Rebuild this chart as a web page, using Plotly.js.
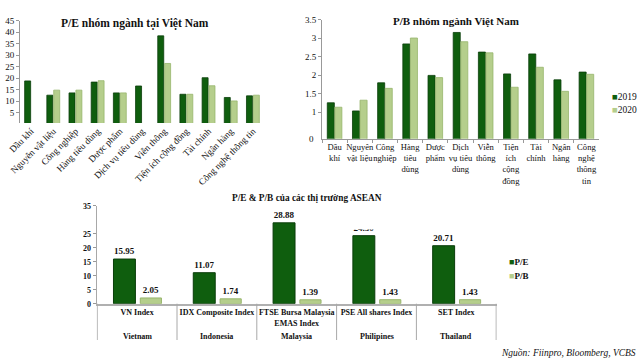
<!DOCTYPE html>
<html>
<head>
<meta charset="utf-8">
<script src="https://cdn.plot.ly/plotly-3.0.1.min.js"></script>
<style>html,body{margin:0;padding:0;background:#fff;}#chart{width:640px;height:361px;}</style>
</head>
<body>
<div id="chart"></div>
<script>
// ---- Data ----
const sectors = ['Dầu khí','Nguyên vật liệu','Công nghiệp','Hàng tiêu dùng','Dược phẩm','Dịch vụ tiêu dùng','Viễn thông','Tiện ích cộng đồng','Tài chính','Ngân hàng','Công nghệ thông tin'];
const sectorLabelsWrapped = ['Dầu<br>khí','Nguyên<br>vật liệu','Công<br>nghiệp','Hàng<br>tiêu<br>dùng','Dược<br>phẩm','Dịch<br>vụ tiêu<br>dùng','Viễn<br>thông','Tiện<br>ích<br>cộng<br>đồng','Tài<br>chính','Ngân<br>hàng','Công<br>nghệ<br>thông<br>tin'];
const pe2019 = [18.8,12.6,13.6,18.3,13.6,16.6,38.4,13.0,20.2,11.6,12.3];
const pe2020 = [null,14.8,14.8,18.9,13.6,null,26.4,13.0,16.7,10.1,12.6];
const pb2019 = [1.25,1.03,1.79,2.84,1.99,3.15,2.62,2.03,2.57,1.87,2.08];
const pb2020 = [1.13,1.32,1.64,3.00,1.93,2.90,2.60,1.67,2.21,1.56,2.02];
const markets = ['VN Index','IDX Composite Index','FTSE Bursa Malaysia<br>EMAS Index','PSE All shares Index','SET Index'];
const countries = ['Vietnam','Indonesia','Malaysia','Philipines','Thailand'];
const marketPE = [15.95,11.07,28.88,24.30,20.71];
const marketPB = [2.05,1.74,1.39,1.43,1.43];
const yearNames = ['2019','2020'];
const ratioNames = ['P/E','P/B'];
const peTicks = [5,10,15,20,25,30,35,40,45];
const pbTicks = [1,1.5,2,2.5,3,3.5];
const aseanTicks = [0,5,10,15,20,25,35];

// ---- Style ----
const SERIF = 'Liberation Serif, Times New Roman, serif';
const DARK = '#0f5e0e', DARK_LINE = '#0a3d0a';
const LIGHT = '#b5ce8c', LIGHT_LINE = '#97b56c';
const W = 640, H = 361;
const px = v => v / W, py = v => 1 - v / H;
const tickFont = {family: SERIF, size: 9, color: '#111'};
const boldTick = {family: SERIF, size: 8, color: '#111', weight: 'bold'};

const traces = [
  {type:'bar', x:sectors, y:pe2019, xaxis:'x', yaxis:'y', offset:-0.29, width:0.27,
   marker:{color:DARK, line:{color:DARK_LINE, width:0.8}}, name:yearNames[0]},
  {type:'bar', x:sectors, y:pe2020, xaxis:'x', yaxis:'y', offset:0.02, width:0.27,
   marker:{color:LIGHT, line:{color:LIGHT_LINE, width:0.8}}, name:yearNames[1]},
  {type:'bar', x:sectors, y:pb2019, xaxis:'x2', yaxis:'y2', offset:-0.29, width:0.28,
   marker:{color:DARK, line:{color:DARK_LINE, width:0.8}}, name:yearNames[0]},
  {type:'bar', x:sectors, y:pb2020, xaxis:'x2', yaxis:'y2', offset:0.01, width:0.28,
   marker:{color:LIGHT, line:{color:LIGHT_LINE, width:0.8}}, name:yearNames[1]},
  {type:'bar', x:markets, y:marketPE, xaxis:'x3', yaxis:'y3', offset:-0.296, width:0.275,
   marker:{color:DARK, line:{color:DARK_LINE, width:1}}, name:ratioNames[0],
   texttemplate:'%{y:.2f}', textposition:'outside', cliponaxis:false,
   textfont:{family:SERIF, size:9, color:'#111', weight:'bold'}},
  {type:'bar', x:markets, y:marketPB, xaxis:'x3', yaxis:'y3', offset:0.04, width:0.265,
   marker:{color:LIGHT, line:{color:LIGHT_LINE, width:1}}, name:ratioNames[1],
   texttemplate:'%{y:.2f}', textposition:'outside', cliponaxis:false,
   textfont:{family:SERIF, size:9, color:'#111', weight:'bold'}}
];

const shapes = [];
for (let i = 0; i <= markets.length; i++) {
  shapes.push({type:'line', xref:'x3', yref:'paper', x0:i-0.5, x1:i-0.5, y0:py(303.7), y1:py(340),
    line:{color:'#a8a8a8', width:1}});
}
// white strip: the reference hides most of one value label
shapes.push({type:'rect', xref:'paper', yref:'paper', x0:px(345), x1:px(395), y0:py(205), y1:py(229.5),
  fillcolor:'#fff', line:{width:0}, layer:'above'});

const ann = (o) => Object.assign({xref:'paper', yref:'paper', showarrow:false, xanchor:'center', yanchor:'middle'}, o);
const annotations = [
  ann({text:'P/E nhóm ngành tại Việt Nam', x:px(135), y:py(23),
   font:{family:SERIF, size:11.5, color:'#111', weight:'bold'}}),
  ann({text:'P/B nhóm ngành Việt Nam', x:px(456), y:py(21),
   font:{family:SERIF, size:11, color:'#111', weight:'bold'}}),
  ann({text:'P/E & P/B của các thị trường ASEAN', x:px(307), y:py(197.5),
   font:{family:SERIF, size:9.3, color:'#111', weight:'bold'}}),
  ann({text:'0', x:px(316), y:py(139.3), xanchor:'right', font:tickFont}),
  ann({text:'Nguồn: Fiinpro, Bloomberg, VCBS', x:px(638), y:py(353), xanchor:'right',
   font:{family:SERIF, size:9.5, color:'#111', style:'italic'}})
];
countries.forEach((c, i) => annotations.push(ann({text:c, xref:'x3', x:i, y:py(336.7), font:boldTick})));
// legends (square swatch + name)
yearNames.forEach((n, i) => annotations.push(ann({
  text:'<span style="color:' + [DARK, LIGHT][i] + '">■</span>' + n,
  x:px(610), y:py(96.7 + i * 13.4), xanchor:'left', font:{family:SERIF, size:9.5, color:'#111'}})));
ratioNames.forEach((n, i) => annotations.push(ann({
  text:'<span style="color:' + [DARK, LIGHT][i] + '">■</span>' + n,
  x:px(507), y:py(262.3 + i * 13.4), xanchor:'left', font:{family:SERIF, size:9, color:'#111', weight:'bold'}})));

const layout = {
  width: W, height: H,
  margin: {l:0, r:0, t:0, b:0},
  paper_bgcolor: '#fff', plot_bgcolor: 'rgba(0,0,0,0)',
  barmode: 'overlay',
  showlegend: false,
  font: {family: SERIF, color: '#111'},
  xaxis: {domain:[px(20), px(264)], anchor:'y', type:'category', tickangle:-45,
    tickfont:{family:SERIF, size:9.3, color:'#111'}, ticks:'', showline:false, showgrid:false, zeroline:false, automargin:false},
  yaxis: {domain:[py(123), py(20.7)], anchor:'x', range:[0.5, 45], tickvals:peTicks,
    tickfont:tickFont, ticks:'outside', ticklen:3, tickcolor:'#999', showline:true, linecolor:'#999',
    linewidth:1, showgrid:false, zeroline:false, automargin:false},
  xaxis2: {domain:[px(322), px(599)], anchor:'y2', type:'category', tickangle:0,
    tickvals:sectors, ticktext:sectorLabelsWrapped, tickfont:{family:SERIF, size:8.6, color:'#111'},
    ticks:'outside', tickson:'boundaries', ticklen:3, tickcolor:'#999', showline:true, linecolor:'#999',
    showgrid:false, zeroline:false, automargin:false},
  yaxis2: {domain:[py(138.7), py(19.5)], anchor:'x2', range:[0.28, 3.5], tickvals:pbTicks,
    tickfont:tickFont, ticks:'outside', ticklen:3, tickcolor:'#999', showline:true, linecolor:'#999',
    showgrid:false, zeroline:false, automargin:false},
  xaxis3: {domain:[px(96.7), px(496.7)], anchor:'y3', type:'category', tickangle:0,
    tickfont:boldTick, ticks:'', showline:true, linecolor:'#b0b0b0', linewidth:2,
    showgrid:false, zeroline:false, automargin:false},
  yaxis3: {domain:[py(303.7), py(205.7)], anchor:'x3', range:[0, 35], tickvals:aseanTicks,
    tickfont:boldTick, ticks:'outside', ticklen:3, tickcolor:'#999', showline:true, linecolor:'#a8a8a8',
    showgrid:false, zeroline:false, automargin:false},
  shapes: shapes,
  annotations: annotations
};

Plotly.newPlot('chart', traces, layout, {staticPlot:true, displayModeBar:false});
</script>
</body>
</html>
